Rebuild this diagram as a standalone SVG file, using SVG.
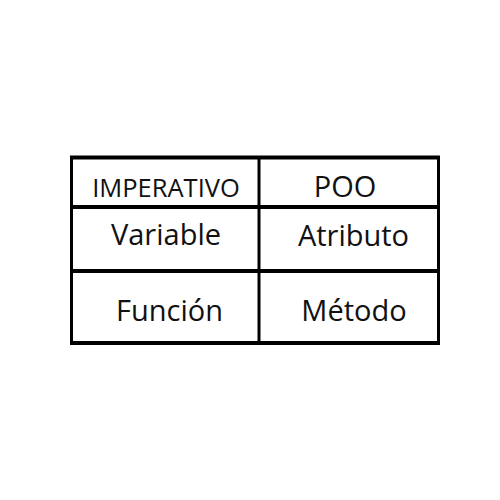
<svg xmlns="http://www.w3.org/2000/svg" width="500" height="500" viewBox="0 0 500 500">
<style>
.t{font-family:"Open Sans","Noto Sans",sans-serif;fill:#111;text-anchor:middle}
.b{font-size:29px}
.s{font-size:25.5px}
.h{stroke:#000;stroke-width:4;fill:none}
.v{stroke:#000;stroke-width:3;fill:none}
</style>
<rect width="500" height="500" fill="#fff"/>
<g id="connectors">
<line class="h" x1="70" y1="157.5" x2="440" y2="157.5"/>
<line class="h" x1="70" y1="207" x2="440" y2="207"/>
<line class="h" x1="70" y1="271" x2="440" y2="271"/>
<line class="h" x1="70" y1="343" x2="440" y2="343"/>
<line class="v" x1="71.5" y1="156" x2="71.5" y2="345"/>
<line class="v" x1="259" y1="156" x2="259" y2="345"/>
<line class="v" x1="438.5" y1="156" x2="438.5" y2="345"/>
</g>
<g id="imperativo"><text class="t s" x="166" y="197">IMPERATIVO</text></g>
<g id="poo"><text class="t b" x="345" y="197">POO</text></g>
<g id="variable"><text class="t b" x="166" y="245">Variable</text></g>
<g id="atributo"><text class="t b" x="353.5" y="245.5">Atributo</text></g>
<g id="funcion"><text class="t b" x="169.5" y="321">Función</text></g>
<g id="metodo"><text class="t b" x="354" y="321">Método</text></g>
</svg>
